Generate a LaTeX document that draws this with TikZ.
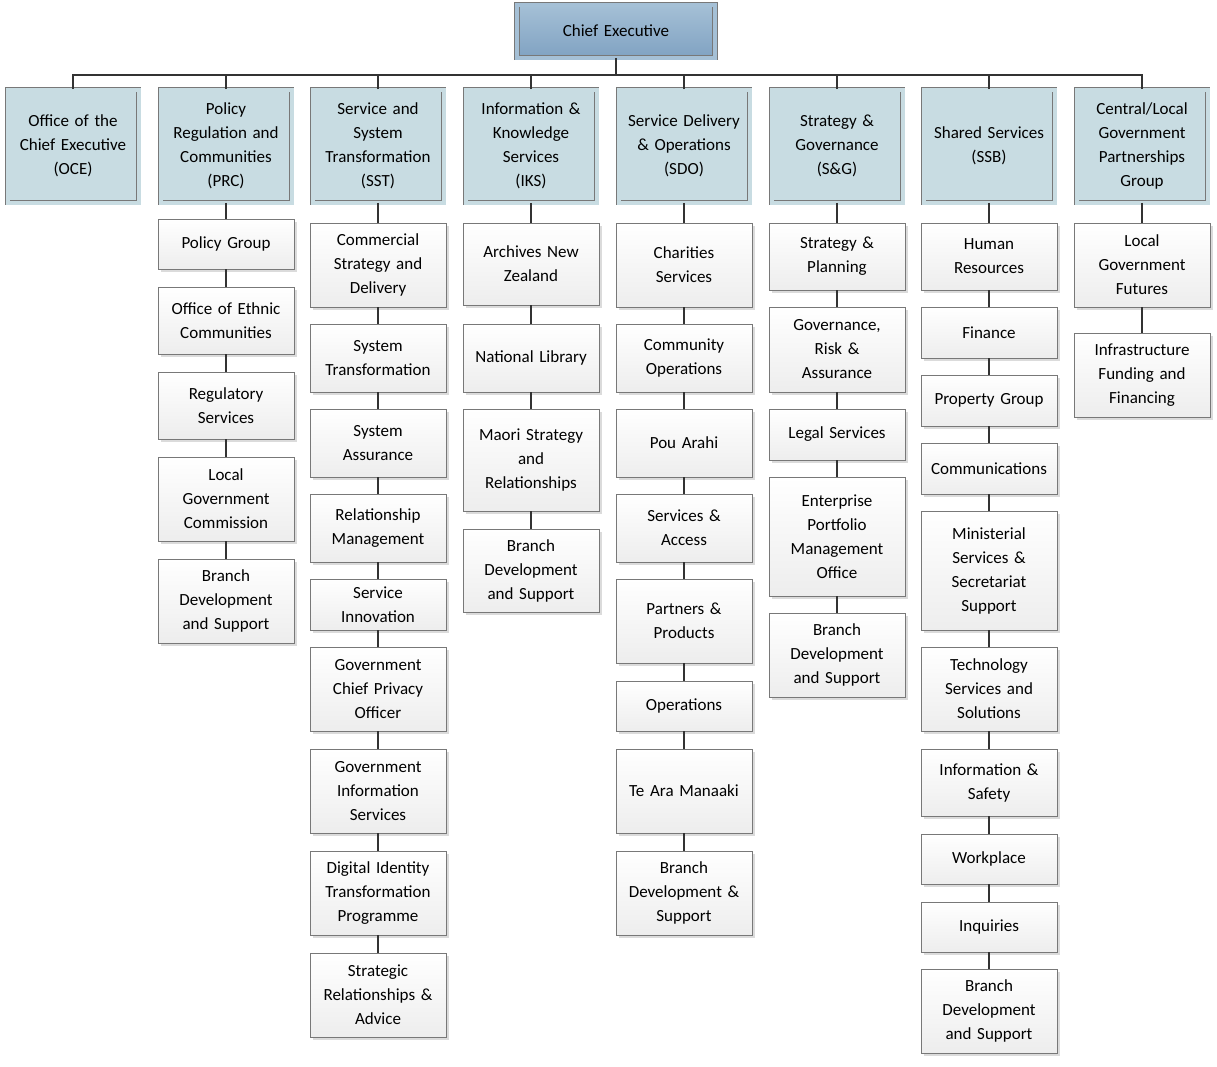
\documentclass[tikz,border=0pt]{standalone}
\usepackage{fontspec}
\setmainfont{Carlito}
\usetikzlibrary{positioning,shadows}
\definecolor{headfill}{RGB}{200,220,226}
\definecolor{cetop}{RGB}{165,192,214}
\definecolor{cebot}{RGB}{128,162,194}
\definecolor{boxline}{RGB}{120,120,120}
\tikzset{
  box/.style={draw=boxline, top color=white, bottom color=gray!14, inner sep=0pt,
    text width=132pt, minimum width=136pt, align=center,
    drop shadow={shadow xshift=2.5pt, shadow yshift=-2.5pt, fill=gray!40, opacity=0.7}},
  headbox/.style={draw=boxline, double=headfill, double distance=4pt, line width=0.8pt,
    fill=headfill, inner sep=0pt, text width=130pt, minimum width=131pt, minimum height=113pt,
    align=center,
    drop shadow={shadow xshift=2.5pt, shadow yshift=-2.5pt, fill=gray!40, opacity=0.7}},
  link/.style={draw=black!80, line width=1.2pt}
}
\begin{document}
\begin{tikzpicture}[x=1pt,y=-1pt,font=\fontsize{17}{24}\selectfont]
\useasboundingbox (0,0) rectangle (1217,1066);
% chief executive
\node[headbox, double=cetop, top color=cetop, bottom color=cebot, text width=196pt,
  minimum width=198pt, minimum height=53pt] (ce) at (616,31) {Chief Executive};
\coordinate (bus) at (616,75);
% branch heads
\foreach \cx/\txt [count=\i] in {
  73/{Office of the\\ Chief Executive\\ (OCE)},
  226/{Policy\\ Regulation and\\ Communities\\ (PRC)},
  378/{Service and\\ System\\ Transformation\\ (SST)},
  531/{Information \&\\ Knowledge\\ Services\\ (IKS)},
  684/{Service Delivery\\ \& Operations\\ (SDO)},
  837/{Strategy \&\\ Governance\\ (S\&G)},
  989/{Shared Services\\ (SSB)},
  1142/{Central/Local\\ Government\\ Partnerships\\ Group}}
  \node[headbox] (h\i-0) at (\cx,146) {\txt};
\draw[link] (ce.south) -- (bus);
\draw[link] (h1-0.north) |- (bus) -| (h8-0.north);
\foreach \i in {2,...,7}
  \draw[link] (h\i-0.north) -- (h\i-0.north |- bus);
% columns of units
\newcommand{\unitcol}[3]{%
  \foreach \t/\b/\txt [count=\j] in {#3} {
    \pgfmathtruncatemacro{\p}{\j-1}
    \node[box, minimum height={(\b-\t)*1pt}] (h#1-\j) at (#2,{(\t+\b)/2}) {\txt};
    \draw[link] (h#1-\p.south) -- (h#1-\j.north);
  }}
\unitcol{2}{226}{219/269/{Policy Group}, 287/354/{Office of Ethnic\\ Communities},
  372/439/{Regulatory\\ Services}, 457/541/{Local\\ Government\\ Commission},
  559/643/{Branch\\ Development\\ and Support}}
\unitcol{3}{378}{223/307/{Commercial\\ Strategy and\\ Delivery}, 324/392/{System\\ Transformation},
  409/477/{System\\ Assurance}, 494/562/{Relationship\\ Management},
  579/630/{Service\\ Innovation}, 647/731/{Government\\ Chief Privacy\\ Officer},
  749/833/{Government\\ Information\\ Services}, 851/935/{Digital Identity\\ Transformation\\ Programme},
  953/1037/{Strategic\\ Relationships \&\\ Advice}}
\unitcol{4}{531}{223/305/{Archives New\\ Zealand}, 324/392/{National Library},
  409/511/{Maori Strategy\\ and\\ Relationships}, 529/612/{Branch\\ Development\\ and Support}}
\unitcol{5}{684}{223/307/{Charities\\ Services}, 324/392/{Community\\ Operations},
  409/477/{Pou Arahi}, 494/562/{Services \&\\ Access}, 579/663/{Partners \&\\ Products},
  681/731/{Operations}, 749/833/{Te Ara Manaaki}, 851/935/{Branch\\ Development \&\\ Support}}
\unitcol{6}{837}{223/290/{Strategy \&\\ Planning}, 307/392/{Governance,\\ Risk \&\\ Assurance},
  409/460/{Legal Services}, 477/596/{Enterprise\\ Portfolio\\ Management\\ Office},
  613/697/{Branch\\ Development\\ and Support}}
\unitcol{7}{989}{223/290/{Human\\ Resources}, 307/358/{Finance}, 375/426/{Property Group},
  443/494/{Communications}, 511/630/{Ministerial\\ Services \&\\ Secretariat\\ Support},
  647/731/{Technology\\ Services and\\ Solutions}, 749/816/{Information \&\\ Safety},
  834/884/{Workplace}, 902/952/{Inquiries}, 969/1053/{Branch\\ Development\\ and Support}}
\unitcol{8}{1142}{223/307/{Local\\ Government\\ Futures}, 333/417/{Infrastructure\\ Funding and\\ Financing}}
\end{tikzpicture}
\end{document}
